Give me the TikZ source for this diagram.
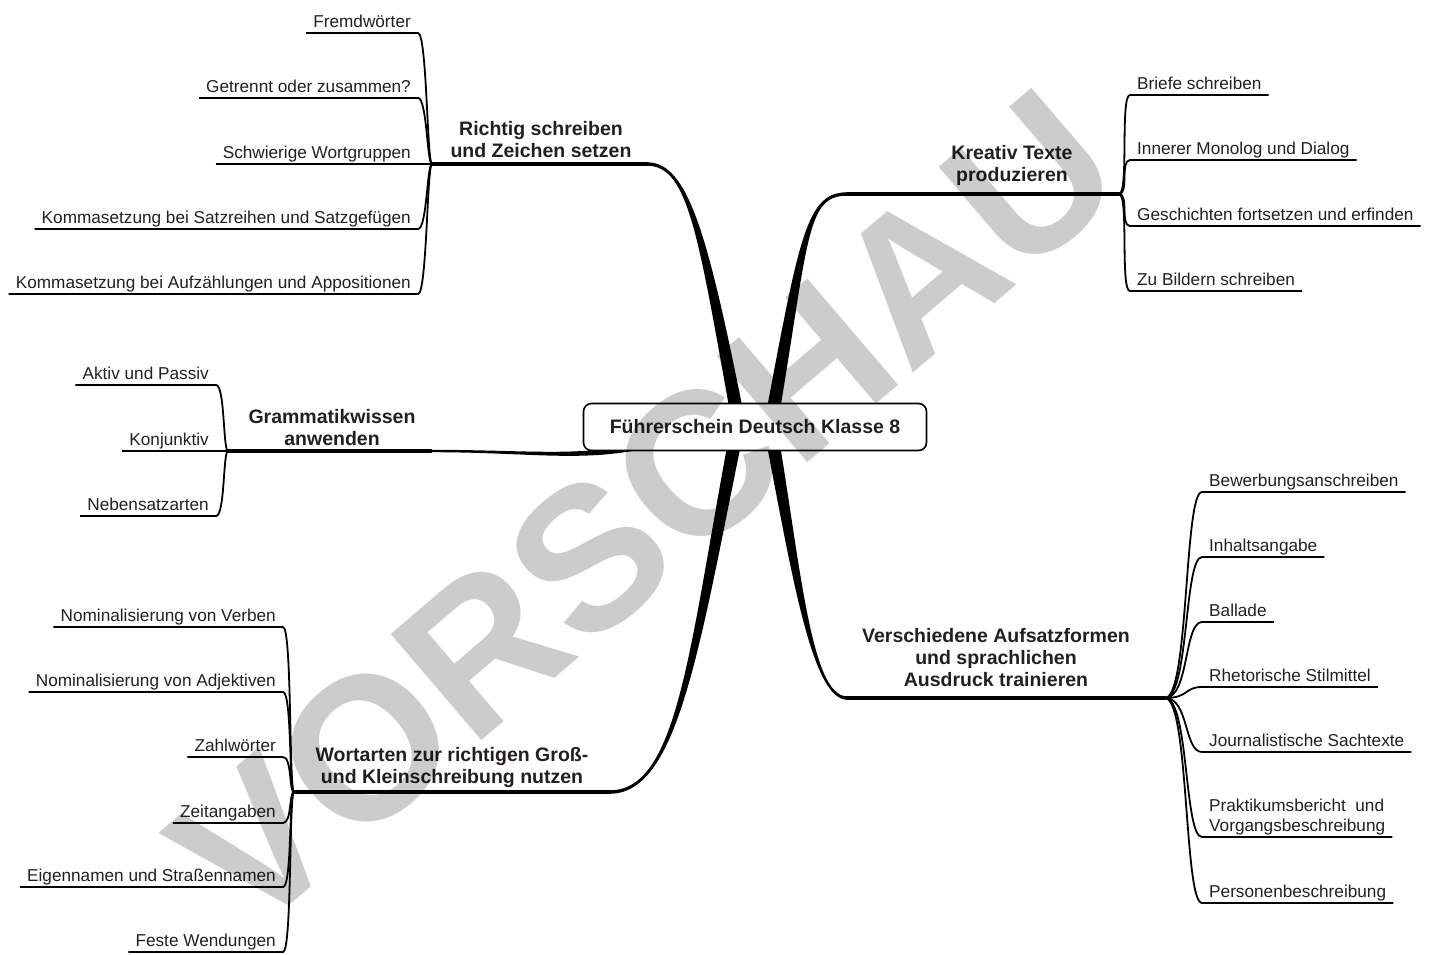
\documentclass[tikz,border=0pt]{standalone}
\usepackage{fontspec}
\setmainfont{Liberation Sans}
\usetikzlibrary{calc}
\definecolor{schrift}{HTML}{231F20}

% tapered main branch: start, control near start, control near end, end, offset at start, offset at end
\newcommand{\hauptast}[6]{%
  \fill ($(#1)+(#5)$) .. controls ($(#2)+0.75*(#5)$) and ($(#3)+(#6)$) .. ($(#4)+(#6)$)
    -- ($(#4)-(#6)$) .. controls ($(#3)-(#6)$) and ($(#2)-0.75*(#5)$) .. ($(#1)-(#5)$) -- cycle;}

\tikzset{
  thema/.style={font={\fontsize{19.5}{22}\bfseries\selectfont}, align=center, text=schrift, inner sep=0pt},
  punkt/.style={font={\fontsize{17.2}{20}\selectfont}, text=schrift, inner xsep=7pt, inner ysep=0pt, text depth=5.5pt},
  zweig/.style={line width=1.8pt},
  stamm/.style={line width=3.4pt, line cap=round},
  mitte/.style={draw, line width=1.6pt, rounded corners=8pt, fill=white, minimum width=343pt,
    minimum height=47pt, font={\fontsize{19.5}{22}\bfseries\selectfont}, text=schrift},
  stempel/.style={rotate=40.5, text=black, opacity=0.2, inner sep=0pt,
    font={\fontsize{203}{203}\bfseries\selectfont}}
}

\begin{document}
\begin{tikzpicture}[x=1pt,y=-1pt]
    \useasboundingbox (0,0) rectangle (1432,954);
    \coordinate (m) at (755,427);

    % Richtig schreiben
    \coordinate (rsJ) at (432,164);
    \coordinate (rsE) at (647,164);
    \coordinate (rsA) at ($(m)+(-13,13)$);
    \node[punkt, anchor=south east] (fw) at (418,33) {Fremdwörter};
    \node[punkt, anchor=south east] (gz) at (418,98) {Getrennt oder zusammen?};
    \node[punkt, anchor=south east] (sw) at (418,164) {Schwierige Wortgruppen};
    \node[punkt, anchor=south east] (ks) at (418,229) {Kommasetzung bei Satzreihen und Satzgefügen};
    \node[punkt, anchor=south east] (ka) at (418,294) {Kommasetzung bei Aufzählungen und Appositionen};
    \draw[zweig] (fw.south west) -- (fw.south east) .. controls +(9,0) and +(-5,0) .. (rsJ);
    \draw[zweig] (gz.south west) -- (gz.south east) .. controls +(9,0) and +(-5,0) .. (rsJ);
    \draw[zweig] (sw.south west) -- (sw.south east) -- (rsJ);
    \draw[zweig] (ks.south west) -- (ks.south east) .. controls +(9,0) and +(-5,0) .. (rsJ);
    \draw[zweig] (ka.south west) -- (ka.south east) .. controls +(9,0) and +(-5,0) .. (rsJ);
    \draw[stamm] (rsJ) -- (rsE);
    \hauptast{rsA}{704,240}{690,164}{rsE}{-7,0}{0,1.7}
    \node[thema] (rs) at (541,140) {Richtig schreiben\\und Zeichen setzen};

    % Kreativ Texte produzieren
    \coordinate (ktJ) at (1119,194);
    \coordinate (ktE) at (847,194);
    \coordinate (ktA) at ($(m)+(13,13)$);
    \node[punkt, anchor=south west] (bs) at (1130,95) {Briefe schreiben};
    \node[punkt, anchor=south west] (im) at (1130,160) {Innerer Monolog und Dialog};
    \node[punkt, anchor=south west] (gf) at (1130,226) {Geschichten fortsetzen und erfinden};
    \node[punkt, anchor=south west] (zb) at (1130,291) {Zu Bildern schreiben};
    \draw[zweig] (ktJ) .. controls +(10,0) and +(-10,0) .. (bs.south west) -- (bs.south east);
    \draw[zweig] (ktJ) .. controls +(10,0) and +(-10,0) .. (im.south west) -- (im.south east);
    \draw[zweig] (ktJ) .. controls +(10,0) and +(-10,0) .. (gf.south west) -- (gf.south east);
    \draw[zweig] (ktJ) .. controls +(10,0) and +(-10,0) .. (zb.south west) -- (zb.south east);
    \draw[stamm] (ktE) -- (ktJ);
    \hauptast{ktA}{804,240}{805,194}{ktE}{7,0}{0,1.7}
    \node[thema] (kt) at (1012,165) {Kreativ Texte\\produzieren};

    % Grammatikwissen anwenden
    \coordinate (gwJ) at (228,451);
    \coordinate (gwE) at (431,451);
    \coordinate (gwA) at ($(m)+(-90,13)$);
    \node[punkt, anchor=south east] (ap) at (216,385) {Aktiv und Passiv};
    \node[punkt, anchor=south east] (kj) at (216,451) {Konjunktiv};
    \node[punkt, anchor=south east] (ns) at (216,516) {Nebensatzarten};
    \draw[zweig] (ap.south west) -- (ap.south east) .. controls +(9,0) and +(-5,0) .. (gwJ);
    \draw[zweig] (kj.south west) -- (kj.south east) -- (gwJ);
    \draw[zweig] (ns.south west) -- (ns.south east) .. controls +(9,0) and +(-5,0) .. (gwJ);
    \draw[stamm] (gwJ) -- (gwE);
    \hauptast{gwA}{590,462}{540,451}{gwE}{0,3.5}{0,1.2}
    \node[thema] (gw) at (332,428) {Grammatikwissen\\anwenden};

    % Wortarten
    \coordinate (waJ) at (294,792);
    \coordinate (waE) at (610,792);
    \coordinate (waA) at ($(m)+(-15,-12)$);
    \node[punkt, anchor=south east] (nv) at (283,627) {Nominalisierung von Verben};
    \node[punkt, anchor=south east] (na) at (283,692) {Nominalisierung von Adjektiven};
    \node[punkt, anchor=south east] (zw) at (283,757) {Zahlwörter};
    \node[punkt, anchor=south east] (za) at (283,823) {Zeitangaben};
    \node[punkt, anchor=south east] (en) at (283,887) {Eigennamen und Straßennamen};
    \node[punkt, anchor=south east] (fe) at (283,952) {Feste Wendungen};
    \draw[zweig] (nv.south west) -- (nv.south east) .. controls +(9,0) and +(-5,0) .. (waJ);
    \draw[zweig] (na.south west) -- (na.south east) .. controls +(9,0) and +(-5,0) .. (waJ);
    \draw[zweig] (zw.south west) -- (zw.south east) .. controls +(9,0) and +(-5,0) .. (waJ);
    \draw[zweig] (za.south west) -- (za.south east) .. controls +(9,0) and +(-5,0) .. (waJ);
    \draw[zweig] (en.south west) -- (en.south east) .. controls +(9,0) and +(-5,0) .. (waJ);
    \draw[zweig] (fe.south west) -- (fe.south east) .. controls +(9,0) and +(-5,0) .. (waJ);
    \draw[stamm] (waJ) -- (waE);
    \hauptast{waA}{695,640}{680,792}{waE}{-7,0}{0,-1.7}
    \node[thema] (wa) at (452,767) {Wortarten zur richtigen Groß-\\und Kleinschreibung nutzen};

    % Verschiedene Aufsatzformen
    \coordinate (vaJ) at (1165,698);
    \coordinate (vaE) at (847,698);
    \coordinate (vaA) at ($(m)+(13,-12)$);
    \node[punkt, anchor=south west] (bw) at (1202,492) {Bewerbungsanschreiben};
    \node[punkt, anchor=south west] (ia) at (1202,557) {Inhaltsangabe};
    \node[punkt, anchor=south west] (ba) at (1202,622) {Ballade};
    \node[punkt, anchor=south west] (rh) at (1202,687) {Rhetorische Stilmittel};
    \node[punkt, anchor=south west] (js) at (1202,752) {Journalistische Sachtexte};
    \node[punkt, anchor=south west, align=left, text depth=, inner ysep=2pt,
      font={\fontsize{17.2}{20}\selectfont}] (pb) at (1202,837) {Praktikumsbericht\ \ und\\Vorgangsbeschreibung};
    \node[punkt, anchor=south west] (pe) at (1202,903) {Personenbeschreibung};
    \draw[zweig] (vaJ) .. controls +(24,0) and +(-18,0) .. (bw.south west) -- (bw.south east);
    \draw[zweig] (vaJ) .. controls +(24,0) and +(-18,0) .. (ia.south west) -- (ia.south east);
    \draw[zweig] (vaJ) .. controls +(24,0) and +(-18,0) .. (ba.south west) -- (ba.south east);
    \draw[zweig] (vaJ) .. controls +(24,0) and +(-18,0) .. (rh.south west) -- (rh.south east);
    \draw[zweig] (vaJ) .. controls +(24,0) and +(-18,0) .. (js.south west) -- (js.south east);
    \draw[zweig] (vaJ) .. controls +(24,0) and +(-18,0) .. (pb.south west) -- (pb.south east);
    \draw[zweig] (vaJ) .. controls +(24,0) and +(-18,0) .. (pe.south west) -- (pe.south east);
    \draw[stamm] (vaE) -- (vaJ);
    \hauptast{vaA}{795,560}{810,698}{vaE}{7,0}{0,-1.7}
    \node[thema] (va) at (996,658) {Verschiedene Aufsatzformen\\und sprachlichen\\Ausdruck trainieren};

    % centre
    \node[mitte] (fd) at (m) {Führerschein Deutsch Klasse 8};

    % watermark
    \node[stempel] (vorschau) at (645,510) {VORSCHAU};
\end{tikzpicture}
\end{document}
